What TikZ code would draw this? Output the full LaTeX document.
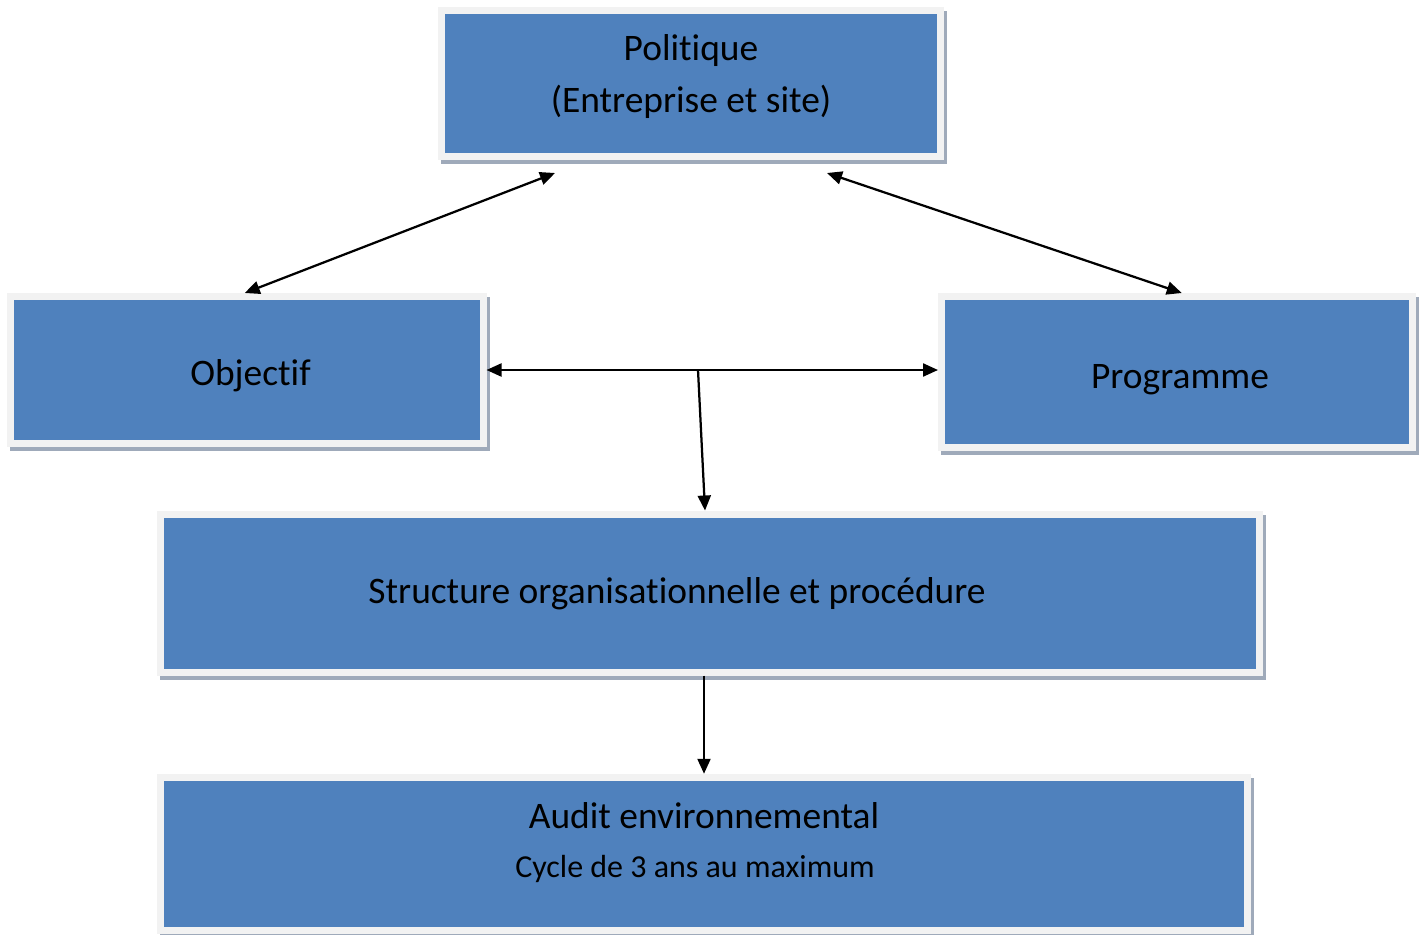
\documentclass[tikz,border=0pt]{standalone}
\usepackage{fontspec}
\setmainfont{Carlito}[Ligatures=NoCommon]
\usetikzlibrary{arrows.meta, positioning, shadows}

\definecolor{boxblue}{HTML}{4F81BD}
\definecolor{boxframe}{HTML}{F2F2F2}
\definecolor{boxshade}{HTML}{9FAABA}

% shift a centred block of lines without changing its size
\newcommand{\lift}[2]{\raisebox{#1}[\height][\depth]{\begin{tabular}{@{}c@{}}#2\end{tabular}}}

\begin{document}
\begin{tikzpicture}[
    box/.style={
        rectangle,
        draw=boxframe,
        line width=0.14cm,
        fill=boxblue,
        inner sep=0pt,
        align=center,
        drop shadow={shadow xshift=0.06cm, shadow yshift=-0.08cm,
            fill=boxshade, draw=boxshade, line width=0.14cm, opacity=1}
    },
    link/.style={line width=0.045cm},
    >={Triangle[length=0.3cm, width=0.26cm]},
    every node/.style={font=\fontsize{21.3}{25.5}\selectfont}
]
\useasboundingbox (0,0) rectangle (28.44,-18.68);

\node[box, minimum width=9.98cm, minimum height=2.92cm] (politique) at (13.82,-1.67)
    {\lift{0.12cm}{Politique\\[0.16cm](Entreprise et site)}};
\node[box, minimum width=9.45cm, minimum height=2.94cm] (objectif) at (4.935,-7.4)
    {\lift{-0.14cm}{\hspace*{0.15cm}Objectif}};
\node[box, minimum width=9.41cm, minimum height=3.02cm] (programme) at (23.535,-7.44)
    {\lift{-0.16cm}{\hspace*{0.13cm}Programme}};
\node[box, minimum width=21.98cm, minimum height=3.16cm] (structure) at (14.2,-11.86)
    {\lift{-0.04cm}{\hspace*{-1.32cm}Structure organisationnelle et procédure}};
\node[box, minimum width=21.75cm, minimum height=3.07cm] (audit) at (14.08,-17.08)
    {\lift{0.2cm}{Audit environnemental\\[0.1cm]{\fontsize{18.2}{21}\selectfont\hspace*{-0.36cm}Cycle de 3 ans au maximum}}};

\coordinate (hub) at (13.96,-7.4);

\draw[link, <->] ([xshift=-2.72cm, yshift=-0.26cm]politique.south) -- ([xshift=-0.04cm]objectif.north);
\draw[link, <->] ([xshift=2.72cm, yshift=-0.26cm]politique.south) -- ([xshift=0.1cm]programme.north);
\draw[link, <->] (objectif.east) -- (objectif.east -| programme.west);
\draw[link, ->] (hub) -- ([xshift=-0.1cm]structure.north);
\draw[link, ->] (audit.north |- structure.south) -- (audit.north);

\end{tikzpicture}
\end{document}
